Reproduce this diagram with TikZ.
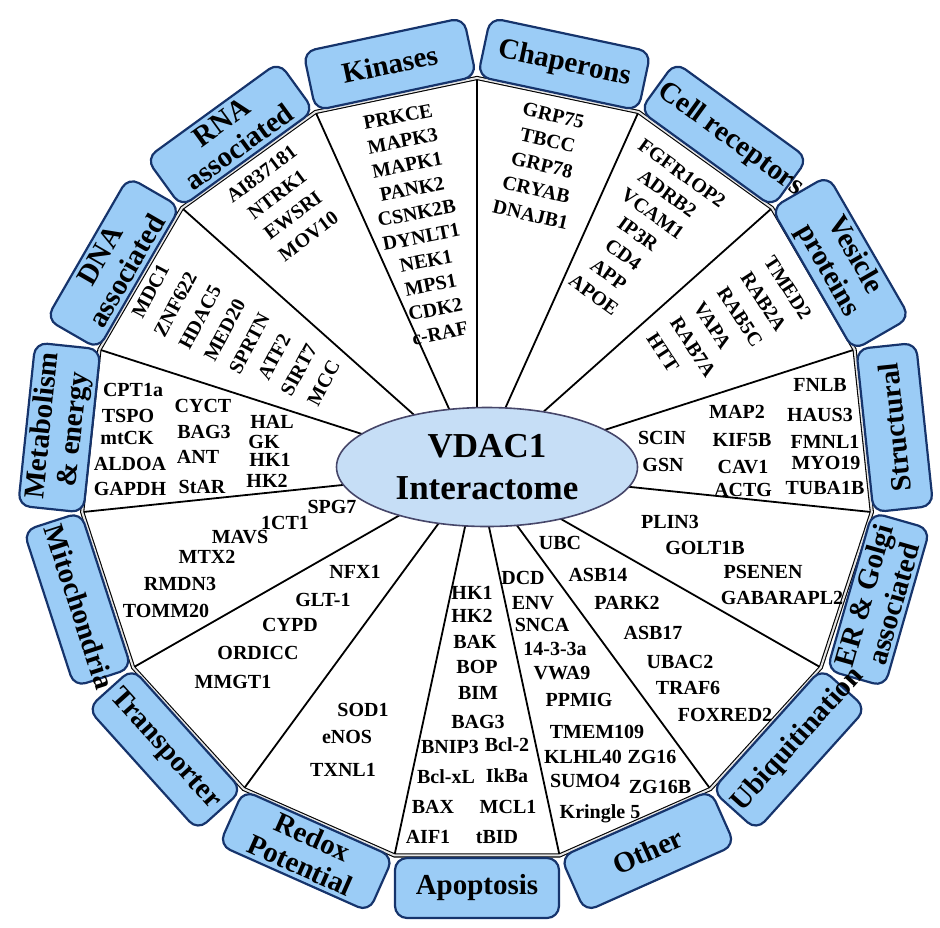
\documentclass[tikz,border=0pt]{standalone}
\usepackage{fontspec}
\setmainfont{Liberation Serif}
\usetikzlibrary{shapes.geometric}
\definecolor{boxfill}{RGB}{155,204,246}
\definecolor{boxdraw}{RGB}{22,52,108}
\definecolor{ellfill}{RGB}{198,222,246}
\definecolor{elldraw}{RGB}{70,70,105}
\begin{document}
\begin{tikzpicture}[x=0.5pt,y=-0.5pt,
  catbox/.style={draw=boxdraw, fill=boxfill, line width=1.1pt, rounded corners=6pt,
     minimum width=82pt, minimum height=30pt, align=center, inner sep=2pt,
     font=\fontsize{14.5}{15.5}\selectfont\bfseries},
  gene/.style={font=\fontsize{10}{12}\selectfont\bfseries, inner sep=0pt, text height=6.6pt, text depth=0pt},
  spoke/.style={line width=0.9pt},
  rim/.style={line width=0.55pt, double=white!80!gray, double distance=1pt, line join=miter}
]
\useasboundingbox (0,0) rectangle (940,927);
\coordinate (O) at (477,471);
\foreach \k in {0,...,14}
  \coordinate (v\k) at ({477+397*cos(90+24*\k)},{471-393*sin(90+24*\k)});
% spokes
\foreach \k in {0,...,14} \draw[spoke] (v\k) -- (O);
% rim
\draw[rim] (v0) -- (v1) -- (v2) -- (v3) -- (v4) -- (v5) -- (v6) -- (v7) -- (v8) -- (v9) -- (v10) -- (v11) -- (v12) -- (v13) -- (v14) -- cycle;
% centre
\node[ellipse, draw=elldraw, fill=ellfill, line width=0.8pt, minimum width=150.5pt, minimum height=59.5pt,
  inner sep=0pt, align=center, font=\fontsize{17.5}{21}\selectfont\bfseries] (core) at (487,467) {VDAC1\\Interactome};
% category boxes
\node[catbox, rotate=12]  (kin) at (389.7,64.1) {Kinases};
\node[catbox, rotate=-12] (cha) at (564.3,64.1) {Chaperons};
\node[catbox, rotate=-36] (cel) at (723.9,134.5) {\makebox[78pt][l]{Cell receptors}};
\node[catbox, rotate=-60] (ves) at (840.7,263) {Vesicle\\proteins};
\node[catbox, rotate=96]  (str) at (894.7,427.5) {Structural};
\node[catbox, rotate=74]  (erg) at (878.5,599.5) {ER \& Golgi\\associated};
\node[catbox, rotate=48]  (ubi) at (789.1,749.4) {\makebox[78pt][l]{Ubiquitination}};
\node[catbox, rotate=24]  (oth) at (647.8,851) {Other};
\node[catbox, rotate=0]   (apo) at (477,888) {Apoptosis};
\node[catbox, rotate=-24] (red) at (306.2,851) {Redox\\Potential};
\node[catbox, rotate=-48] (tra) at (164.9,749.4) {Transporter};
\node[catbox, rotate=-72] (mit) at (77.5,599.5) {\makebox[78pt][l]{Mitochondria}};
\node[catbox, rotate=84]  (met) at (59.3,427.5) {Metabolism\\\& energy};
\node[catbox, rotate=60]  (dna) at (113.3,263) {DNA\\associated};
\node[catbox, rotate=36]  (rna) at (230.1,134.5) {RNA\\associated};
% rotated gene lists
\foreach \t [count=\j] in {PRKCE,MAPK3,MAPK1,PANK2,CSNK2B,DYNLT1,NEK1,MPS1,CDK2,c-RAF}
  \node[gene, rotate=11] (kin\j) at ({419+(\j-5.5)*24.5*sin(11)},{225+(\j-5.5)*24.5*cos(11)}) {\t};
\foreach \t [count=\j] in {GRP75,TBCC,GRP78,CRYAB,DNAJB1}
  \node[gene, rotate=-13] (cha\j) at ({542+(\j-3)*25.5*sin(-13)},{165+(\j-3)*25.5*cos(-13)}) {\t};
\foreach \t [count=\j] in {FGFR1OP2,ADRB2,VCAM1,IP3R,CD4,APP,APOE}
  \node[gene, rotate=-36] (cel\j) at ({638+(\j-4)*25*sin(-36)},{234+(\j-4)*25*cos(-36)}) {\t};
\foreach \t [count=\j] in {TMED2,RAB2A,RAB5C,VAPA,RAB7A,HTT}
  \node[gene, rotate=-57, anchor=west] (ves\j) at ({710+(\j-3.5)*28*sin(-57)},{296+(\j-3.5)*28*cos(-57)}) {\t};
\foreach \t [count=\j] in {MDC1,ZNF622,HDAC5,MED20,SPRTN,ATF2,SIRT7,MCC}
  \node[gene, rotate=62] (dna\j) at ({237+(\j-4.5)*28*sin(62)},{337+(\j-4.5)*28*cos(62)}) {\t};
\foreach \t [count=\j] in {AI837181,NTRK1,EWSRI,MOV10}
  \node[gene, rotate=37] (rna\j) at ({285+(\j-2.5)*26*sin(37)},{205+(\j-2.5)*26*cos(37)}) {\t};
% horizontal genes
\foreach \t/\x/\y [count=\i] in {
  CPT1a/133/390, TSPO/128/416, mtCK/127/438, ALDOA/130/464, GAPDH/130/489,
  CYCT/203/406, BAG3/204/432, ANT/198/457, StAR/202/487,
  HAL/272/422, GK/264/442, HK1/270/460, HK2/267/481,
  SPG7/332/507, 1CT1/285/523, MAVS/240/537, MTX2/207/557, RMDN3/180/584, TOMM20/166/611,
  NFX1/355/572, GLT-1/323/600, CYPD/290/625, ORDICC/258/653, MMGT1/233/682,
  SOD1/363/710, eNOS/347/737, TXNL1/343/770,
  HK1/472/593, HK2/472/616, BAK/475/642, BOP/477/667, BIM/478/693, BAG3/478/722,
  BNIP3/450/747, Bcl-2/507/745, Bcl-xL/446/777, IkBa/507/776, BAX/433/807, MCL1/508/807,
  AIF1/428/837, tBID/497/837,
  DCD/523/578, ENV/533/603, SNCA/542/625, 14-3-3a/555/649, VWA9/562/673, PPMIG/579/700,
  TMEM109/597/732, KLHL40/583/757, ZG16/652/757, SUMO4/585/781, ZG16B/660/787, Kringle 5/600/812,
  UBC/560/543, ASB14/598/575, PARK2/627/603, ASB17/653/633, UBAC2/680/662, TRAF6/688/688, FOXRED2/725/715,
  PLIN3/670/522, GOLT1B/705/548, PSENEN/763/572, GABARAPL2/782/598,
  SCIN/662/438, GSN/663/465, MAP2/737/412, KIF5B/742/440, CAV1/743/467, ACTG/743/490,
  FNLB/820/385, HAUS3/820/415, FMNL1/825/442, MYO19/826/463, TUBA1B/825/488}
  \node[gene] (g\i) at (\x,\y) {\t};
\end{tikzpicture}
\end{document}
